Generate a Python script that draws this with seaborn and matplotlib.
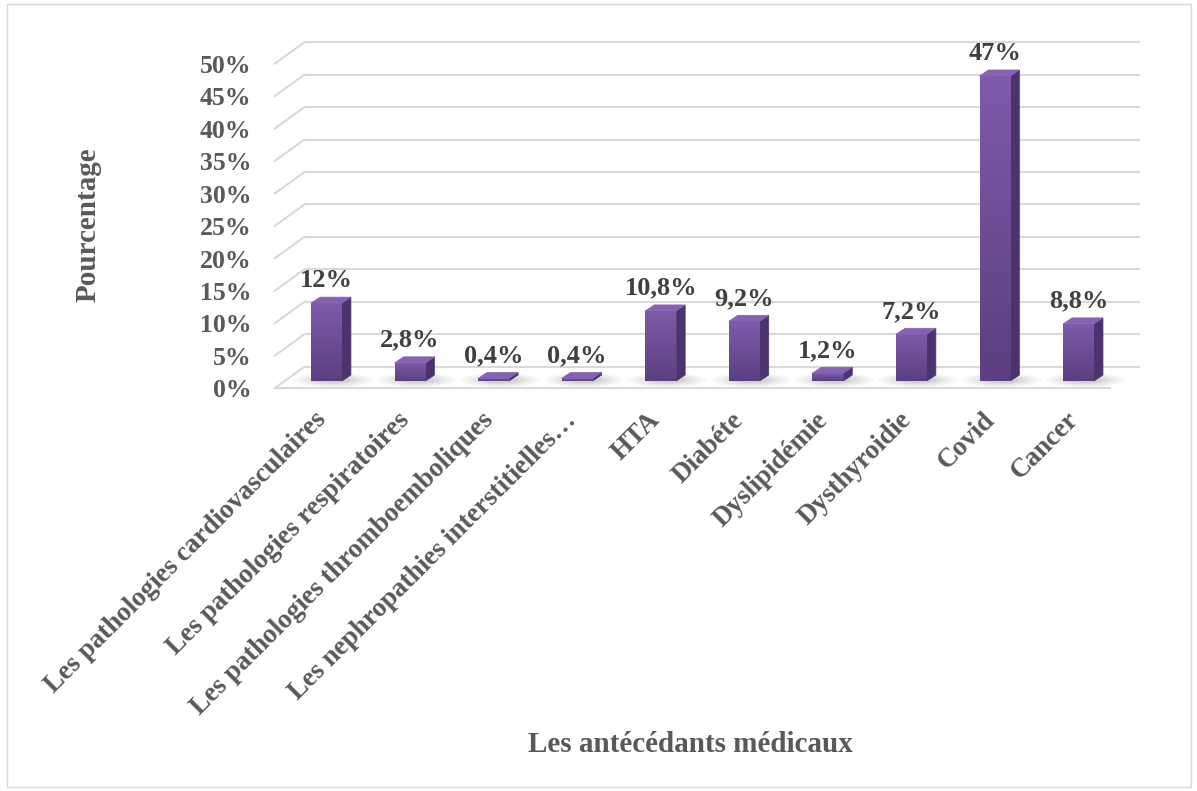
import numpy as np
import pandas as pd
import matplotlib
matplotlib.use("Agg")
import matplotlib.pyplot as plt
import matplotlib.transforms as mtransforms
from matplotlib.patches import Polygon, Ellipse, Rectangle
import seaborn as sns

# ---- data -------------------------------------------------------------
categories = [
    "Les pathologies cardiovasculaires",
    "Les pathologies respiratoires",
    "Les pathologies thromboemboliques",
    "Les nephropathies interstitielles\u2026",
    "HTA",
    "Diabéte",
    "Dyslipidémie",
    "Dysthyroidie",
    "Covid",
    "Cancer",
]
percentages = [12, 2.8, 0.4, 0.4, 10.8, 9.2, 1.2, 7.2, 47, 8.8]
y_ticks = [0, 5, 10, 15, 20, 25, 30, 35, 40, 45, 50]
y_tick_labels = [f"{t}%" for t in y_ticks]
x_title = "Les antécédants médicaux"
y_title = "Pourcentage"

# ---- style ------------------------------------------------------------
sns.set_theme(style="white")
plt.rcParams["font.family"] = ["Liberation Serif", "DejaVu Serif"]
plt.rcParams["font.weight"] = "bold"

TEXT = "#595959"
VALUE_TEXT = "#404040"
GRID = "#D9D9D9"
FRONT_TOP = "#7E5BAA"
FRONT_BOTTOM = "#5B3F80"
SIDE = "#4C336D"
TOP = "#8563B2"

W, H, DPI = 1197, 791, 100
fig = plt.figure(figsize=(W / DPI, H / DPI), dpi=DPI)
fig.patch.set_facecolor("white")

# plot plane in pixels (left, bottom-from-top, right, top-from-top)
px_left, px_right = 284.7, 1120.3
px_base, px_top = 381.0, 56.5
ax = fig.add_axes([px_left / W, (H - px_base) / H,
                   (px_right - px_left) / W, (px_base - px_top) / H])

df = pd.DataFrame({"cat": categories, "pct": percentages})
sns.barplot(data=df, x="cat", y="pct", color=FRONT_BOTTOM, width=0.37,
            saturation=1, ax=ax, zorder=3)
ax.set_xlim(-0.5, len(categories) - 0.5)
ax.set_ylim(0, 50)

# pixel -> data conversion factors
ux = (px_right - px_left) / len(categories)
uy = (px_base - px_top) / 50.0

def off(dx_px, dy_px):
    return dx_px / ux, dy_px / uy

# depth of the 3-D box relative to the bar plane
bx, by = off(19.8, 14.3)     # back wall
fx, fy = off(-10.2, -7.3)    # front edge of the floor
x0, x1 = -0.5, len(categories) - 0.5

for t in y_ticks:
    ax.plot([x0 + bx, x1 + bx], [t + by, t + by], color=GRID, lw=1.5,
            clip_on=False, zorder=1, solid_capstyle="butt")
    ax.plot([x0 + fx, x0 + bx], [t + fy, t + by], color=GRID, lw=1.5,
            clip_on=False, zorder=1)
# front edge of the floor
ax.plot([x0 + fx, x1 + fx], [fy, fy], color=GRID, lw=1.5,
        clip_on=False, zorder=1)

# 3-D faces for each bar
sdx, sdy = off(9, 6)
grad = np.linspace(0, 1, 256).reshape(-1, 1)
cmap = matplotlib.colors.LinearSegmentedColormap.from_list(
    "bar", [FRONT_BOTTOM, FRONT_TOP])
for p in list(ax.patches):
    xa = p.get_x()
    xb = xa + p.get_width()
    h = p.get_height()
    xc = (xa + xb) / 2
    # soft floor shadow
    for k, a in zip(range(5), [0.04, 0.05, 0.06, 0.07, 0.09]):
        e = Ellipse((xc + 0.08, 0.15), width=(0.95 - 0.13 * k),
                    height=(2.2 - 0.3 * k), color="#606060", alpha=a,
                    lw=0, zorder=2, clip_on=False)
        ax.add_patch(e)
    # gradient on the front face
    im = ax.imshow(grad, extent=[xa, xb, 0, h], origin="lower",
                   cmap=cmap, aspect="auto", zorder=3.5)
    im.set_clip_path(p)
    side = Polygon([[xb, 0], [xb + sdx, sdy], [xb + sdx, h + sdy], [xb, h]],
                   closed=True, facecolor=SIDE, edgecolor=SIDE, lw=0.5,
                   zorder=3.4, clip_on=False)
    top = Polygon([[xa, h], [xb, h], [xb + sdx, h + sdy], [xa + sdx, h + sdy]],
                  closed=True, facecolor=TOP, edgecolor=TOP, lw=0.5,
                  zorder=3.6, clip_on=False)
    ax.add_patch(side)
    ax.add_patch(top)

ax.set_xlim(-0.5, len(categories) - 0.5)
ax.set_ylim(0, 50)
ax.set_aspect("auto")

# value labels
labels = [f"{v:g}%".replace(".", ",") for v in percentages]
ax.bar_label(ax.containers[0], labels=labels, padding=8, fontsize=19,
             fontweight="bold", color=VALUE_TEXT, zorder=5)

for s in ax.spines.values():
    s.set_visible(False)
ax.grid(False)
ax.set_facecolor("none")

# y axis ticks at the front edge of the floor
ax.set_yticks(y_ticks)
ax.set_yticklabels(y_tick_labels, fontsize=18.5, fontweight="bold", color=TEXT)
ax.tick_params(axis="y", length=0, pad=24)
shift_y = mtransforms.ScaledTranslation(0, -7.3 / DPI, fig.dpi_scale_trans)
for lbl in ax.get_yticklabels():
    lbl.set_transform(lbl.get_transform() + shift_y)

# category labels
ax.set_xticks(range(len(categories)))
ax.set_xticklabels(categories, rotation=45, ha="right", va="top",
                   rotation_mode="anchor", fontsize=19.5, fontweight="bold",
                   color=TEXT)
ax.tick_params(axis="x", length=0, pad=19)
shift_x = mtransforms.ScaledTranslation(-13 / DPI, 0, fig.dpi_scale_trans)
for lbl in ax.get_xticklabels():
    lbl.set_transform(lbl.get_transform() + shift_x)

ax.set_xlabel("")
ax.set_ylabel("")
fig.text(88 / W, 1 - 225 / H, y_title, rotation=90, ha="center", va="center",
         fontsize=21, fontweight="bold", color=TEXT)
fig.text(690 / W, 1 - 745 / H, x_title, ha="center", va="center",
         fontsize=21, fontweight="bold", color=TEXT)

# chart border
fig.add_artist(Rectangle((7 / W, 4 / H), 1184 / W, 783 / H,
                         transform=fig.transFigure, fill=False,
                         edgecolor=GRID, lw=1.0))

fig.savefig("out.png", dpi=DPI, facecolor="white")
